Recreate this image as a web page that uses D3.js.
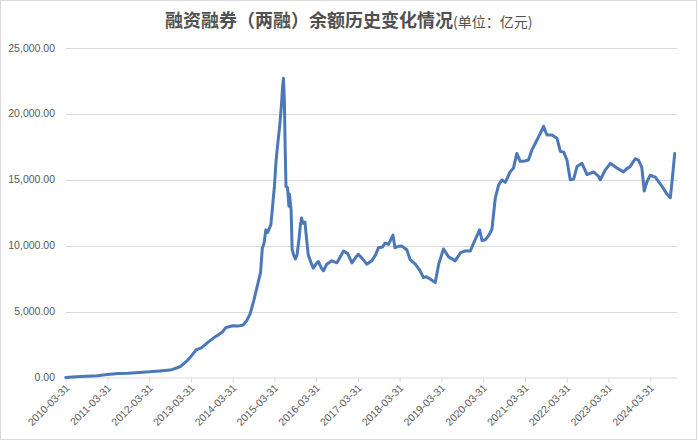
<!DOCTYPE html>
<html><head><meta charset="utf-8">
<script src="https://cdn.jsdelivr.net/npm/d3@7"></script>
<style>
html,body{margin:0;padding:0;background:#fff;}
svg{display:block;}
</style></head>
<body>
<svg id="chart" width="698" height="441"></svg>
<script>
const titleMain = "融资融券（两融）余额历史变化情况";
const titleUnit = "(单位：亿元)";
const yTicks = [0, 5000, 10000, 15000, 20000, 25000];
const xTickLabels = ["2010-03-31","2011-03-31","2012-03-31","2013-03-31","2014-03-31","2015-03-31","2016-03-31","2017-03-31","2018-03-31","2019-03-31","2020-03-31","2021-03-31","2022-03-31","2023-03-31","2024-03-31"];
const dates = ["2010-03-31","2010-06-30","2010-09-30","2010-12-31","2011-03-31","2011-06-30","2011-09-30","2011-12-31","2012-03-31","2012-06-30","2012-09-30","2012-11-30","2012-12-31","2013-02-28","2013-03-31","2013-05-15","2013-06-30","2013-08-31","2013-10-31","2013-12-31","2014-01-31","2014-03-31","2014-05-15","2014-06-30","2014-07-31","2014-08-31","2014-09-30","2014-10-31","2014-11-30","2014-12-15","2014-12-31","2015-01-15","2015-01-31","2015-02-28","2015-03-15","2015-03-31","2015-04-15","2015-04-30","2015-05-15","2015-05-31","2015-06-10","2015-06-18","2015-06-26","2015-07-03","2015-07-10","2015-07-24","2015-08-05","2015-08-10","2015-08-24","2015-09-02","2015-09-15","2015-09-30","2015-10-15","2015-11-01","2015-11-12","2015-11-24","2015-12-05","2015-12-23","2016-01-10","2016-01-21","2016-02-15","2016-03-05","2016-04-05","2016-04-19","2016-05-15","2016-06-02","2016-07-01","2016-08-15","2016-09-28","2016-10-30","2016-11-24","2016-12-31","2017-02-06","2017-03-10","2017-04-03","2017-05-10","2017-06-16","2017-07-30","2017-09-01","2017-09-27","2017-10-30","2017-11-24","2017-12-23","2018-01-31","2018-02-18","2018-03-20","2018-04-18","2018-06-01","2018-06-30","2018-08-15","2018-09-25","2018-10-25","2018-11-20","2018-12-25","2019-02-05","2019-03-07","2019-04-18","2019-06-02","2019-07-30","2019-09-12","2019-10-26","2019-12-09","2020-01-07","2020-02-28","2020-03-20","2020-04-18","2020-05-20","2020-06-15","2020-07-14","2020-08-12","2020-09-11","2020-10-10","2020-11-21","2020-12-21","2021-01-19","2021-02-17","2021-03-18","2021-04-30","2021-05-30","2021-07-13","2021-08-11","2021-09-10","2021-10-09","2021-11-22","2022-01-05","2022-02-04","2022-03-05","2022-04-02","2022-05-01","2022-05-31","2022-06-29","2022-08-12","2022-09-25","2022-11-22","2023-01-05","2023-01-19","2023-03-04","2023-04-17","2023-06-13","2023-08-10","2023-09-08","2023-10-07","2023-11-20","2023-12-19","2024-01-17","2024-02-07","2024-03-02","2024-03-31","2024-05-14","2024-07-12","2024-08-25","2024-09-23","2024-10-08","2024-10-31"];
const balances = [0,50,90,127,230,300,330,380,430,500,560,740,850,1300,1600,2100,2250,2700,3100,3450,3800,3920,3900,3990,4300,4850,5800,6900,8000,9800,10200,11200,11000,11600,13000,14500,16500,17800,19000,20600,22000,22700,21000,17500,14500,14400,13000,13900,12700,9700,9300,9000,9300,10500,11500,12100,11700,11800,10200,9300,8700,8300,8700,8800,8300,8100,8600,8850,8700,9200,9600,9400,8700,9100,9350,9000,8600,8850,9300,9850,9900,10200,10100,10800,9850,9950,9970,9700,8950,8600,8100,7580,7650,7450,7200,8600,9750,9150,8850,9450,9600,9600,10200,11200,10400,10450,10800,11250,13600,14600,15000,14800,15600,15900,17000,16400,16400,16500,17250,18000,18500,19050,18400,18400,18150,17150,17100,16500,15000,15050,16000,16250,15400,15600,15250,15000,15750,16250,15900,15600,15850,16000,16600,16500,15950,14150,14850,15350,15200,14500,13900,13650,14900,17000];

(function(){
const parse = d3.timeParse("%Y-%m-%d");
const data = dates.map((d,i)=>({date: parse(d), value: balances[i]}));

const svg = d3.select("#chart");
const pLeft = 65.7, pRight = 677, pTop = 48, pBottom = 377.5;

// chart border
svg.append("rect").attr("x",0.5).attr("y",0.5).attr("width",696).attr("height",439)
  .attr("fill","#fff").attr("stroke","#d9d9d9").attr("stroke-width",1);

const x = d3.scaleTime().domain([parse("2010-03-31"), parse("2024-11-20")]).range([pLeft, pRight]);
const y = d3.scaleLinear().domain([0, 25000]).range([pBottom, pTop]);

// gridlines
svg.append("g").selectAll("line").data(yTicks.filter(v=>v>0)).join("line")
  .attr("x1", pLeft).attr("x2", pRight)
  .attr("y1", d=>Math.round(y(d))+0.5).attr("y2", d=>Math.round(y(d))+0.5)
  .attr("stroke","#d9d9d9").attr("stroke-width",1);

// y axis labels
const fmt = d3.format(",.2f");
svg.append("g").selectAll("text").data(yTicks).join("text")
  .attr("x", 55).attr("y", d=>y(d)+3.5)
  .attr("text-anchor","end")
  .attr("font-family","'Liberation Sans', Arial, sans-serif")
  .attr("font-size","10.5px").attr("fill","#595959")
  .text(d=>fmt(d));

// x axis
const xAxis = d3.axisBottom(x)
  .tickValues(xTickLabels.map(parse))
  .tickSize(5).tickSizeOuter(0)
  .tickFormat(d3.timeFormat("%Y-%m-%d"));
const gx = svg.append("g").attr("transform", `translate(0,${Math.round(pBottom)-0.5})`).call(xAxis);
gx.select(".domain").attr("stroke","#d9d9d9");
gx.selectAll(".tick line").attr("stroke","#d9d9d9");
gx.selectAll(".tick text")
  .attr("font-family","'Liberation Sans', Arial, sans-serif")
  .attr("font-size","10.5px").attr("fill","#595959")
  .attr("text-anchor","end")
  .attr("dy","0")
  .attr("transform","translate(4,11) rotate(-45)")
  .attr("y",0).attr("x",0);

// line
const line = d3.line().x(d=>x(d.date)).y(d=>y(d.value)).curve(d3.curveLinear);
svg.append("path").datum(data).attr("d", line)
  .attr("fill","none").attr("stroke","#4a78b8").attr("stroke-width",3)
  .attr("stroke-linejoin","round").attr("stroke-linecap","round");

// title
const t = svg.append("text").attr("x", 165).attr("y", 27)
  .attr("font-family","'Noto Sans CJK SC', sans-serif").attr("fill","#505050");
t.append("tspan").attr("font-size","18px").attr("font-weight","bold").text(titleMain);
t.append("tspan").attr("font-size","14px").attr("font-weight","normal").text(titleUnit);
})();
</script>
</body></html>
